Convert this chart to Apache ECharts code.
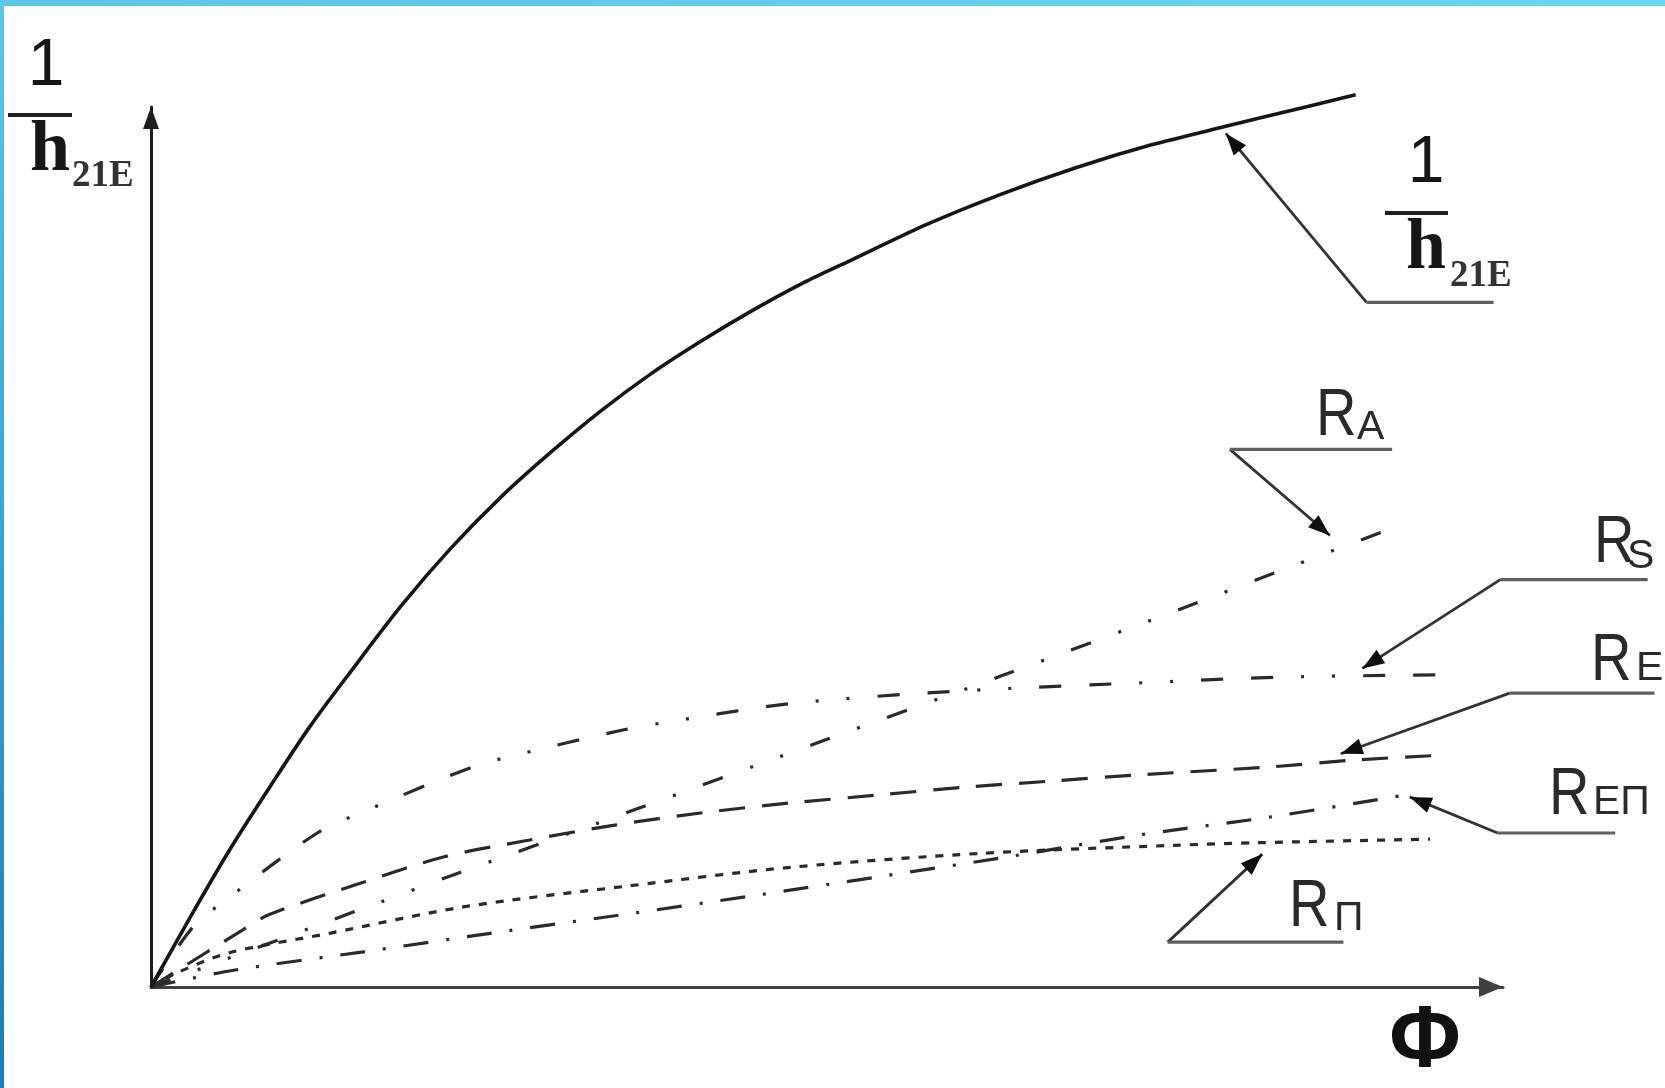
<!DOCTYPE html>
<html>
<head>
<meta charset="utf-8">
<script src="https://cdn.jsdelivr.net/npm/echarts@6/dist/echarts.min.js"></script>
<style>
  html, body { margin: 0; padding: 0; background: #ffffff; }
  #chart { width: 1665px; height: 1088px; }
</style>
</head>
<body>
<div id="chart"></div>
<script>
// Φ (x) and resistance-type quantities (y), in axis units 0..10
const curveInvH21E = [[0,0],[0.30,0.82],[0.59,1.58],[0.89,2.30],[1.18,2.97],[1.48,3.59],[1.85,4.33],[2.22,4.99],[2.59,5.57],[2.96,6.08],[3.33,6.55],[3.70,6.97],[4.07,7.34],[4.44,7.68],[4.81,7.99],[5.18,8.26],[5.73,8.66],[6.29,9.01],[6.84,9.31],[7.40,9.57],[7.95,9.78],[8.51,9.99],[8.91,10.14]];
const curveRA  = [[0,0],[1.67,0.95],[2.23,1.27],[3.57,2.01],[4.92,2.77],[6.28,3.53],[7.64,4.31],[8.42,4.77],[9.29,5.28]];
const curveRS  = [[0,0],[0.31,0.68],[0.58,1.02],[1.23,1.75],[1.60,2.01],[2.36,2.49],[2.71,2.64],[3.49,2.92],[3.90,3.03],[4.73,3.22],[5.94,3.36],[7.52,3.47],[8.33,3.52],[9.68,3.55]];
const curveRE  = [[0,0],[0.68,0.65],[0.87,0.82],[1.57,1.19],[2.17,1.48],[2.80,1.67],[3.43,1.84],[4.08,1.98],[4.72,2.09],[5.37,2.18],[6.01,2.27],[6.66,2.34],[7.30,2.41],[8.27,2.50],[8.91,2.58],[9.50,2.63]];
const curveREP = [[0,0],[0.61,0.19],[1.57,0.40],[2.51,0.61],[3.48,0.82],[4.42,1.03],[5.37,1.25],[6.34,1.48],[7.32,1.73],[8.27,1.93],[9.23,2.17]];
const curveRP  = [[0,0],[0.19,0.16],[0.58,0.39],[1.32,0.61],[2.31,0.91],[3.54,1.15],[4.73,1.36],[6.15,1.52],[7.57,1.61],[8.20,1.64],[9.46,1.68]];

const X_MAX = 10;
const Y_MAX = 10;

// leader lines (axis units): arrow tip near the curve, knee, end of the underline
const leaders = [
  { tip: [7.95, 9.70], knee: [8.99, 7.78], end: [9.93, 7.78] },
  { tip: [8.72, 5.13], knee: [7.98, 6.11], end: [9.18, 6.11] },
  { tip: [8.96, 3.62], knee: [9.98, 4.63], end: [11.07, 4.63] },
  { tip: [8.80, 2.65], knee: [10.05, 3.34], end: [11.12, 3.34] },
  { tip: [9.31, 2.16], knee: [9.96, 1.75], end: [10.83, 1.75] },
  { tip: [8.22, 1.51], knee: [7.52, 0.51], end: [8.82, 0.51] }
];

const ink = '#161616';
const dashInk = '#2a2a2a';

function curve(name, data, type, width, color, z) {
  return {
    name: name,
    type: 'line',
    data: data,
    showSymbol: false,
    symbol: 'none',
    smooth: 0.3,
    clip: false,
    silent: true,
    z: z,
    lineStyle: { color: color, width: width, type: type, cap: 'butt' }
  };
}

const chart = echarts.init(document.getElementById('chart'), null, { renderer: 'canvas' });

chart.setOption({
  animation: false,
  backgroundColor: '#ffffff',
  grid: { left: 151, right: 162, top: 107, bottom: 101, containLabel: false },
  xAxis: {
    type: 'value', min: 0, max: X_MAX,
    axisLine: {
      show: true, symbol: ['none', 'triangle'], symbolSize: [20, 24], symbolOffset: [0, -12],
      lineStyle: { color: '#404040', width: 3 }
    },
    axisTick: { show: false }, axisLabel: { show: false }, splitLine: { show: false }
  },
  yAxis: {
    type: 'value', min: 0, max: Y_MAX,
    axisLine: {
      show: true, symbol: ['none', 'triangle'], symbolSize: [16, 22], symbolOffset: [0, -11],
      lineStyle: { color: '#1e1e1e', width: 3 }
    },
    axisTick: { show: false }, axisLabel: { show: false }, splitLine: { show: false }
  },
  series: [
    curve('RП', curveRP, [8, 9], 3.2, dashInk, 2),
    curve('RЕП', curveREP, [25, 18, 3, 18], 3.2, dashInk, 2),
    curve('RЕ', curveRE, [26, 17], 3.2, dashInk, 2),
    curve('RS', curveRS, [22, 28, 22, 28, 3, 28, 3, 28], 3.2, dashInk, 2),
    curve('RA', curveRA, [21, 29, 3, 29, 3, 29, 21, 29, 3, 29], 3.2, dashInk, 2),
    curve('1/h21E', curveInvH21E, 'solid', 3.6, ink, 3)
  ]
});

const toPx = (p) => chart.convertToPixel({ gridIndex: 0 }, p);

function text(str, x, y, size, family, weight, align, color, scaleX) {
  return {
    type: 'text', x: x, y: y, scaleX: scaleX || 1, z: 10, silent: true,
    style: {
      text: str, x: 0, y: 0,
      font: (weight || 'normal') + ' ' + size + 'px "' + family + '"',
      fill: color || ink,
      align: align || 'left', textAlign: align || 'left',
      verticalAlign: 'middle', textVerticalAlign: 'middle'
    }
  };
}

function hLine(x1, x2, y, w, color) {
  return { type: 'line', z: 10, silent: true, shape: { x1: x1, y1: y, x2: x2, y2: y }, style: { stroke: color, lineWidth: w } };
}

const elements = [];

// frame strips along the top and left edges
elements.push({
  type: 'rect', z: 20, silent: true, shape: { x: 0, y: 0, width: 1665, height: 6 },
  style: { fill: new echarts.graphic.LinearGradient(0, 0, 1, 0, [{ offset: 0, color: '#5cc6e6' }, { offset: 1, color: '#68d6f0' }]) }
});
elements.push({
  type: 'rect', z: 20, silent: true, shape: { x: 0, y: 0, width: 4, height: 1088 },
  style: { fill: new echarts.graphic.LinearGradient(0, 0, 0, 1, [{ offset: 0, color: '#5cc8e8' }, { offset: 1, color: '#1e7bb3' }]) }
});

// leader lines with arrowheads
leaders.forEach(function (ld) {
  const t = toPx(ld.tip), k = toPx(ld.knee), e = toPx(ld.end);
  elements.push({ type: 'line', z: 9, silent: true, shape: { x1: k[0], y1: k[1], x2: t[0], y2: t[1] }, style: { stroke: '#333333', lineWidth: 2.8 } });
  elements.push({ type: 'line', z: 9, silent: true, shape: { x1: k[0], y1: k[1], x2: e[0], y2: e[1] }, style: { stroke: '#606060', lineWidth: 3.2 } });
  const dx = t[0] - k[0], dy = t[1] - k[1], len = Math.hypot(dx, dy);
  const ux = dx / len, uy = dy / len, L = 22, W = 16;
  const bx = t[0] - ux * L, by = t[1] - uy * L;
  elements.push({
    type: 'polygon', z: 10, silent: true,
    shape: { points: [[t[0], t[1]], [bx - uy * W / 2, by + ux * W / 2], [bx + uy * W / 2, by - ux * W / 2]] },
    style: { fill: '#0e0e0e' }
  });
});

// axis titles
elements.push(text('1', 46, 67, 66, 'Liberation Sans', 'normal', 'center'));
elements.push(hLine(8, 72, 115, 4, '#1e1e1e'));
elements.push(text('h', 30, 151, 72, 'Liberation Serif', 'bold', 'left'));
elements.push(text('21E', 72, 176, 37, 'Liberation Serif', 'bold', 'left', '#333333'));
elements.push(text('Φ', 1425, 1043, 87, 'Liberation Sans', 'bold', 'center', '#111111'));

// curve labels
elements.push(text('1', 1426, 164, 66, 'Liberation Sans', 'normal', 'center'));
elements.push(hLine(1385, 1448, 213, 4, '#1e1e1e'));
elements.push(text('h', 1406, 249, 72, 'Liberation Serif', 'bold', 'left'));
elements.push(text('21E', 1450, 276, 37, 'Liberation Serif', 'bold', 'left', '#333333'));

const labelR = '#2a2a2a';
elements.push(text('R', 1316, 417, 66, 'Liberation Sans', 'normal', 'left', labelR, 0.85));
elements.push(text('A', 1357, 428, 41, 'Liberation Sans', 'normal', 'left', labelR));
elements.push(text('R', 1594, 544, 66, 'Liberation Sans', 'normal', 'left', labelR, 0.85));
elements.push(text('S', 1627, 557, 41, 'Liberation Sans', 'normal', 'left', labelR));
elements.push(text('R', 1591, 662, 66, 'Liberation Sans', 'normal', 'left', labelR, 0.85));
elements.push(text('Е', 1636, 669, 41, 'Liberation Sans', 'normal', 'left', labelR));
elements.push(text('R', 1549, 796, 66, 'Liberation Sans', 'normal', 'left', labelR, 0.85));
elements.push(text('ЕП', 1593, 803, 41, 'Liberation Sans', 'normal', 'left', labelR));
elements.push(text('R', 1289, 908, 66, 'Liberation Sans', 'normal', 'left', labelR, 0.85));
elements.push(text('П', 1334, 919, 41, 'Liberation Sans', 'normal', 'left', labelR));

chart.setOption({ graphic: { elements: elements } });
</script>
</body>
</html>
